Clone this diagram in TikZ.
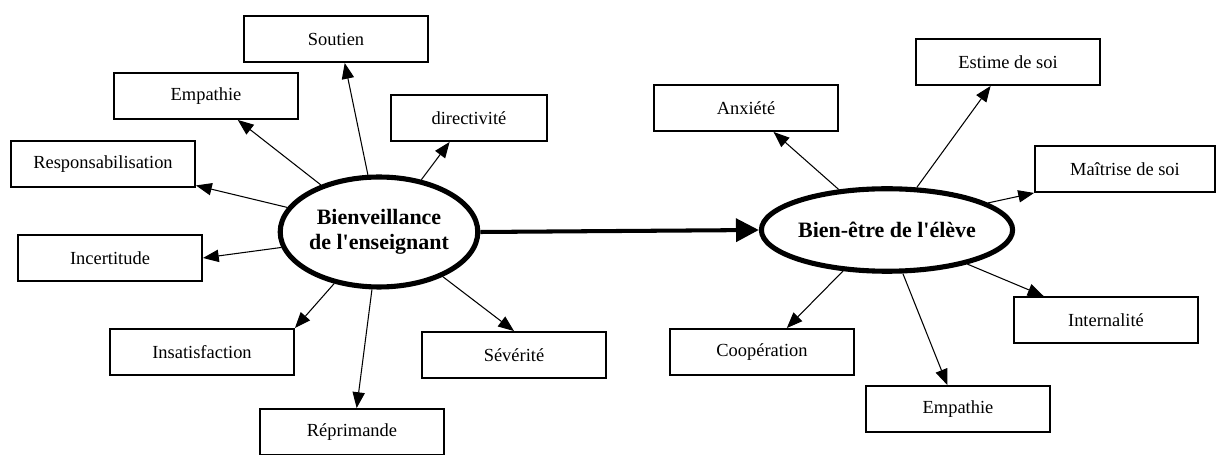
\documentclass[tikz,border=0pt]{standalone}
\usepackage{fontspec}
\setmainfont{Liberation Serif}
\usetikzlibrary{arrows.meta,shapes.geometric}

\begin{document}
\begin{tikzpicture}[x=0.02cm,y=-0.02cm,
        box/.style={draw,line width=1.1pt,minimum width=3.68cm,minimum height=0.92cm,inner sep=0pt,font=\fontsize{10.5}{12}\selectfont},
        bubble/.style={draw,ellipse,line width=2.9pt,inner sep=0pt,align=center,font=\fontsize{12.5}{14.5}\selectfont\bfseries},
        link/.style={line width=0.6pt,-{Triangle[length=9pt,width=7pt]}}]
        \useasboundingbox (0,0) rectangle (1217,455);
        \node[bubble,minimum width=3.8cm,minimum height=2.2cm] (bienv) at (379,232) {Bienveillance\\de l\textquotesingle enseignant};
        \node[bubble,minimum width=4.25cm,minimum height=1.65cm] (bienetre) at (887,230) {Bien-être de l\textquotesingle élève};
        \node[box] (soutien) at (336,39) {Soutien};
        \node[box] (empathie) at (206,96) {Empathie};
        \node[box,minimum width=3.12cm] (directivite) at (469,118) {directivité};
        \node[box] (respons) at (103,164) {Responsabilisation};
        \node[box] (incert) at (110,258) {Incertitude};
        \node[box] (insatisf) at (202,352) {Insatisfaction};
        \node[box] (reprim) at (352,432) {Réprimande};
        \node[box] (severite) at (514,355) {Sévérité};
        \node[box] (anxiete) at (746,108) {Anxiété};
        \node[box] (estime) at (1008,62) {Estime de soi};
        \node[box,minimum width=3.6cm] (maitrise) at (1125,169) {Maîtrise de soi};
        \node[box] (internal) at (1106,320) {Internalité};
        \node[box] (cooper) at (762,352) {Coopération};
        \node[box] (empathie2) at (958,409) {Empathie};
        \draw[line width=2.3pt,-{Triangle[length=13pt,width=13pt]}] (bienv.east)--(bienetre.west);
        \draw[link] (bienv.101)--(soutien.-70);
        \draw[link] (bienv.141)--(empathie.-37);
        \draw[link] (bienv.51)--(directivite.-129);
        \draw[link] (bienv.165)--(respons.-13);
        \draw[link] (bienv.-171)--(incert.east);
        \draw[link] (bienv.-131)--(insatisf.north east);
        \draw[link] (bienv.-97)--(reprim.79);
        \draw[link] (bienv.-35)--(severite.north);
        \draw[link] (bienetre.140)--(anxiete.-41);
        \draw[link] (bienetre.55)--(estime.-126);
        \draw[link] (bienetre.15)--(maitrise.south west);
        \draw[link] (bienetre.-23)--(internal.159);
        \draw[link] (bienetre.-70)--(empathie2.114);
        \draw[link] (bienetre.-137)--(cooper.44);
    \end{tikzpicture}
\end{document}
